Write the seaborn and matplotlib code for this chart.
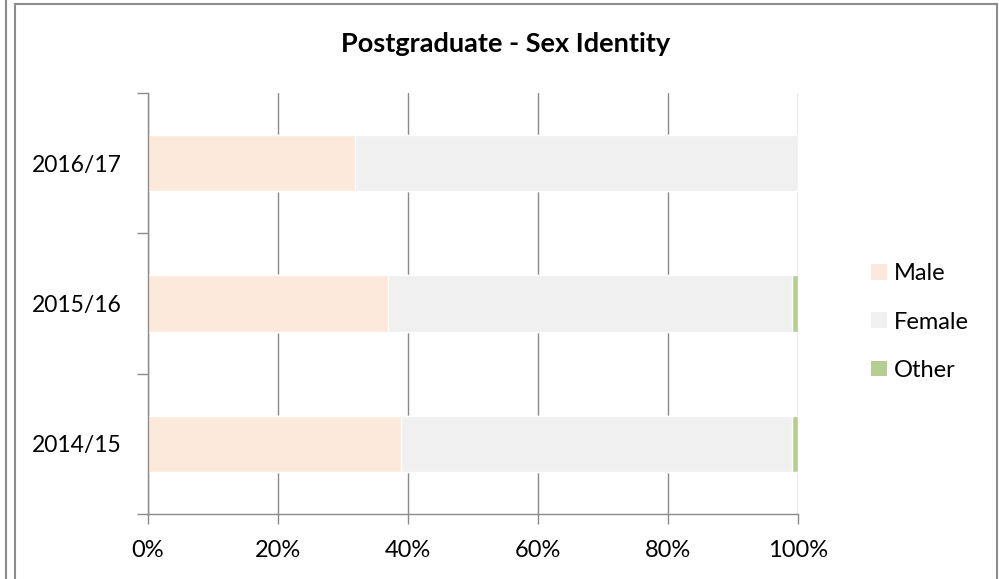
import numpy as np
import pandas as pd
import matplotlib
matplotlib.use("Agg")
import matplotlib.pyplot as plt
import seaborn as sns
from matplotlib.patches import Patch
from matplotlib.lines import Line2D
from matplotlib.ticker import PercentFormatter

# -- Дані (частки, %)
years = ["2016/17", "2015/16", "2014/15"]
male = [31.9, 36.9, 38.9]
female = [68.1, 62.1, 60.1]
other = [0.0, 1.0, 1.0]

series_names = ["Male", "Female", "Other"]
colors = {"Male": "#FCE9DB", "Female": "#F0F0F0", "Other": "#B5CE92"}

df = pd.DataFrame({"year": years, "Male": male, "Female": female, "Other": other})
# накопичені суми для стекових смуг
df["c_male"] = df["Male"]
df["c_female"] = df["c_male"] + df["Female"]
df["c_other"] = df["c_female"] + df["Other"]

sns.set_theme(style="white")
plt.rcParams["font.family"] = ["Lato", "DejaVu Sans"]
plt.rcParams["text.color"] = "black"
plt.rcParams["xtick.labelcolor"] = "black"
plt.rcParams["ytick.labelcolor"] = "black"

fig = plt.figure(figsize=(9.99, 5.79), dpi=100)
ax = fig.add_axes([148 / 999, 1 - 514 / 579, 650 / 999, 421 / 579])

# малюємо від найдовшої до найкоротшої, щоб отримати стек
for col, name in [("c_other", "Other"), ("c_female", "Female"), ("c_male", "Male")]:
    sns.barplot(data=df, y="year", x=col, order=years, orient="h",
                color=colors[name], width=0.4, ax=ax, saturation=1)

ax.set_xlim(0, 100)
ax.set_ylim(2.5, -0.5)
ax.set_xlabel("")
ax.set_ylabel("")

grid_c = "#8A8A8A"
ax.set_xticks(np.arange(0, 101, 20))
ax.xaxis.set_major_formatter(PercentFormatter(decimals=0))
ax.xaxis.grid(True, color=grid_c, linewidth=1.0)
ax.set_axisbelow(True)
ax.tick_params(axis="x", which="major", length=7, color=grid_c, width=1.0,
               labelsize=17, pad=12, bottom=True)

ax.set_yticks([0, 1, 2])
ax.set_yticklabels(years)
ax.set_yticks([-0.5, 0.5, 1.5, 2.5], minor=True)
ax.tick_params(axis="y", which="major", length=0, labelsize=16.5, pad=19)
ax.tick_params(axis="y", which="minor", length=8, color=grid_c, width=1.0, left=True)

for s in ["top", "right"]:
    ax.spines[s].set_visible(False)
for s in ["left", "bottom"]:
    ax.spines[s].set_color(grid_c)
    ax.spines[s].set_linewidth(1.0)

fig.text(506 / 999, 1 - 52 / 579, "Postgraduate - Sex Identity", ha="center",
         va="baseline", fontsize=19.5, fontweight="bold")

handles = [Patch(facecolor=colors[n], edgecolor="none", label=n) for n in series_names]
fig.legend(handles=handles, loc="center left", bbox_to_anchor=(862 / 999, 1 - 322 / 579),
           frameon=False, fontsize=17, handlelength=0.64, handleheight=0.64,
           handletextpad=0.3, labelspacing=1.15, borderaxespad=0)

# рамка навколо діаграми
frame_c = "#8C8C8C"
fig.add_artist(Line2D([6 / 999, 6 / 999], [0, 1], color=frame_c, lw=1.5))
fig.add_artist(Line2D([15 / 999, 15 / 999], [0, 1 - 4 / 579], color=frame_c, lw=1.5))
fig.add_artist(Line2D([15 / 999, 997 / 999], [1 - 4 / 579, 1 - 4 / 579], color=frame_c, lw=1.5))
fig.add_artist(Line2D([997 / 999, 997 / 999], [0, 1 - 4 / 579], color=frame_c, lw=1.5))

fig.savefig("out.png", dpi=100)
